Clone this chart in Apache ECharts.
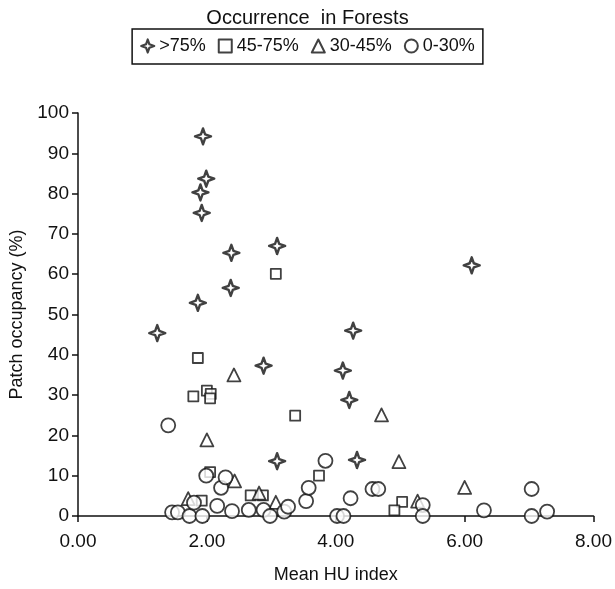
<!DOCTYPE html>
<html>
<head>
<meta charset="utf-8">
<script src="https://cdn.jsdelivr.net/npm/echarts@6/dist/echarts.min.js"></script>
<style>
  html, body { margin: 0; padding: 0; background: #fff; }
  #main { width: 615px; height: 589px; }
</style>
</head>
<body>
<div id="main"></div>
<script>
// data, [Mean HU index, Patch occupancy %]
var over75 = [
  [1.94, 94.2], [1.99, 83.7], [1.90, 80.3], [1.92, 75.2], [2.38, 65.3],
  [3.09, 67.0], [2.37, 56.6], [1.86, 52.9], [1.23, 45.4], [6.11, 62.2],
  [4.27, 46.0], [4.11, 36.1], [4.21, 28.8], [2.88, 37.3], [3.09, 13.6],
  [4.33, 13.9]
];
var from45to75 = [
  [3.07, 60.1], [1.86, 39.2], [1.79, 29.7], [2.00, 31.1], [2.06, 30.3],
  [2.05, 29.2], [3.37, 24.9], [2.05, 10.9], [1.92, 3.8], [2.68, 5.1],
  [2.87, 5.1], [3.74, 10.0], [5.03, 3.5], [4.91, 1.4]
];
var from30to45 = [
  [2.42, 35.0], [2.00, 18.9], [2.43, 8.7], [1.71, 4.3], [2.81, 5.7],
  [3.07, 3.4], [4.71, 25.1], [4.98, 13.5], [5.27, 3.7], [6.00, 7.1]
];
var from0to30 = [
  [1.40, 22.5], [1.46, 0.9], [1.55, 0.9], [1.73, 0], [1.80, 3.3],
  [1.93, 0], [1.99, 10.0], [2.16, 2.5], [2.22, 7.0], [2.29, 9.6],
  [2.39, 1.2], [2.65, 1.5], [2.88, 1.5], [2.98, 0], [3.20, 1.1],
  [3.26, 2.3], [3.54, 3.7], [3.58, 7.0], [3.84, 13.7], [4.02, 0],
  [4.12, 0], [4.23, 4.4], [4.57, 6.7], [4.66, 6.7], [5.35, 2.7],
  [5.35, 0], [6.30, 1.4], [7.04, 6.7], [7.04, 0], [7.28, 1.1]
];
var seriesNames = ['>75%', '45-75%', '30-45%', '0-30%'];

var starPath = 'path://M0,-10 L2.6,-2.6 L10,0 L2.6,2.6 L0,10 L-2.6,2.6 L-10,0 L-2.6,-2.6 Z';
var font = 'Liberation Sans, Arial, sans-serif';
var ink = '#111';

function makeSeries(name, data, symbol, size){
    return {
        name: name,
        type: 'scatter',
        data: data,
        symbol: symbol,
        symbolSize: size,
        itemStyle: {
            color: '#fff',
            borderColor: ink,
            borderWidth: symbol === starPath ? 2.4 : 1.8,
            borderJoin: 'round'
        },
        emphasis: { disabled: true }
    };
}

var chart = echarts.init(document.getElementById('main'));
chart.setOption({
    animation: false,
    textStyle: { fontFamily: font, color: ink },
    title: {
        text: 'Occurrence  in Forests',
        left: 'center',
        top: 3,
        textStyle: { fontFamily: font, fontSize: 20, fontWeight: 'normal', color: ink }
    },
    legend: {
        top: 29,
        left: 'center',
        data: [
            { name: seriesNames[0], icon: starPath, itemStyle: { borderWidth: 2.2 } },
            { name: seriesNames[1], icon: 'rect' },
            { name: seriesNames[2], icon: 'triangle' },
            { name: seriesNames[3], icon: 'circle' }
        ],
        borderColor: ink,
        borderWidth: 1.5,
        padding: [8, 8, 9, 8],
        itemGap: 12,
        itemWidth: 13,
        itemHeight: 13,
        textStyle: { fontFamily: font, fontSize: 18, color: ink }
    },
    grid: {
        left: 78,
        right: 17,
        top: 113,
        bottom: 68,
        containLabel: false
    },
    xAxis: {
        type: 'value',
        min: 0,
        max: 8,
        interval: 2,
        name: 'Mean HU index',
        nameLocation: 'middle',
        nameGap: 50,
        nameTextStyle: { fontFamily: font, fontSize: 18, color: ink },
        axisLine: { lineStyle: { color: ink, width: 1.5 } },
        axisTick: { show: true, length: 6, lineStyle: { color: ink, width: 1.5 } },
        axisLabel: {
            fontFamily: font, fontSize: 19, color: ink, margin: 16,
            formatter: function (v) { return v.toFixed(2); }
        },
        splitLine: { show: false }
    },
    yAxis: {
        type: 'value',
        min: 0,
        max: 100,
        interval: 10,
        name: 'Patch occupancy (%)',
        nameLocation: 'middle',
        nameGap: 51,
        nameTextStyle: { fontFamily: font, fontSize: 18, color: ink },
        axisLine: { show: true, lineStyle: { color: ink, width: 1.5 } },
        axisTick: { show: true, length: 6, lineStyle: { color: ink, width: 1.5 } },
        axisLabel: { fontFamily: font, fontSize: 19, color: ink, margin: 9 },
        splitLine: { show: false }
    },
    series: [
        makeSeries(seriesNames[0], over75, starPath, 16),
        makeSeries(seriesNames[1], from45to75, 'rect', 10),
        makeSeries(seriesNames[2], from30to45, 'triangle', 13),
        makeSeries(seriesNames[3], from0to30, 'circle', 14)
    ]
});
</script>
</body>
</html>
